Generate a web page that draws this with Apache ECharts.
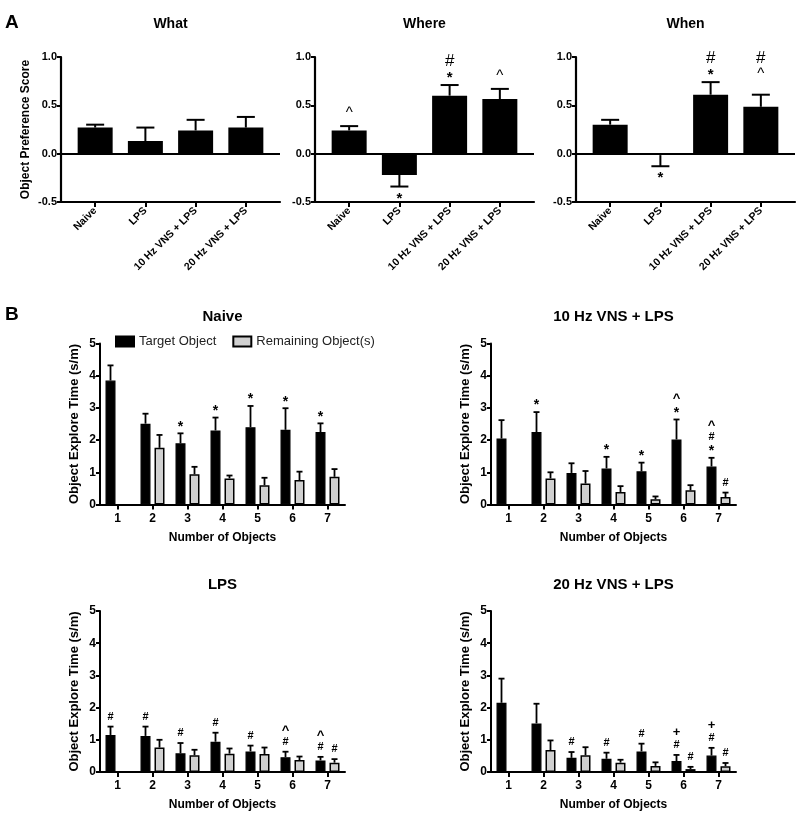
<!DOCTYPE html>
<html><head><meta charset="utf-8">
<script src="https://cdn.jsdelivr.net/npm/echarts@6/dist/echarts.min.js"></script>
<style>html,body{margin:0;padding:0;background:#fff}#c{width:800px;height:817px}</style>
</head><body><div id="c"></div>
<script>
// ================= DATA =================
// Panel A : Object Preference Score
const groupsA = ['Naive', 'LPS', '10 Hz VNS + LPS', '20 Hz VNS + LPS'];
const yTicksA = [-0.5, 0.0, 0.5, 1.0];

const whatMean  = [0.27, 0.13, 0.24, 0.27];
const whatUpper = [0.30, 0.27, 0.35, 0.38];
const whatMarks = ['', '', '', ''];
const whatMarkBase = [0.30, 0.27, 0.35, 0.38];

const whereMean  = [0.24, -0.22, 0.60, 0.565];
const whereUpper = [0.285, -0.34, 0.71, 0.67];
const whereMarks = ['^', '*', '*#', '^'];
const whereMarkBase = [0.285, -0.34, 0.71, 0.67];

const whenMean  = [0.30, -0.015, 0.61, 0.485];
const whenUpper = [0.35, -0.13, 0.74, 0.61];
const whenMarks = ['', '*', '*#', '^#'];
const whenMarkBase = [0.35, -0.13, 0.74, 0.69];

// Panel B : Object Explore Time (s/m) vs number of objects
const objectCounts = ['1', '2', '3', '4', '5', '6', '7'];
const yTicksB = [0, 1, 2, 3, 4, 5];

const naiveTarget      = [3.85, 2.51, 1.90, 2.30, 2.40, 2.32, 2.25];
const naiveTargetUpper = [4.32, 2.82, 2.21, 2.70, 3.06, 2.99, 2.52];
const naiveRemain      = [null, 1.76, 0.94, 0.81, 0.60, 0.76, 0.86];
const naiveRemainUpper = [null, 2.16, 1.17, 0.90, 0.83, 1.02, 1.10];
const naiveTargetMarks = ['', '', '*', '*', '*', '*', '*'];
const naiveRemainMarks = ['', '', '', '', '', '', ''];

const vns10Target      = [2.05, 2.25, 0.98, 1.12, 1.03, 2.02, 1.18];
const vns10TargetUpper = [2.62, 2.87, 1.28, 1.48, 1.30, 2.64, 1.45];
const vns10Remain      = [null, 0.81, 0.65, 0.39, 0.16, 0.44, 0.23];
const vns10RemainUpper = [null, 1.00, 1.04, 0.57, 0.25, 0.60, 0.37];
const vns10TargetMarks = ['', '*', '', '*', '*', '*^', '*#^'];
const vns10RemainMarks = ['', '', '', '', '', '', '#'];

const lpsTarget      = [1.15, 1.12, 0.58, 0.94, 0.64, 0.46, 0.36];
const lpsTargetUpper = [1.41, 1.41, 0.90, 1.22, 0.82, 0.63, 0.47];
const lpsRemain      = [null, 0.76, 0.52, 0.57, 0.56, 0.37, 0.29];
const lpsRemainUpper = [null, 1.00, 0.69, 0.73, 0.76, 0.48, 0.40];
const lpsTargetMarks = ['#', '#', '#', '#', '#', '#^', '#^'];
const lpsRemainMarks = ['', '', '', '', '', '', '#'];

const vns20Target      = [2.15, 1.51, 0.44, 0.41, 0.64, 0.34, 0.51];
const vns20TargetUpper = [2.90, 2.12, 0.62, 0.60, 0.88, 0.53, 0.75];
const vns20Remain      = [null, 0.68, 0.52, 0.29, 0.19, 0.09, 0.18];
const vns20RemainUpper = [null, 0.98, 0.77, 0.38, 0.30, 0.16, 0.28];
const vns20TargetMarks = ['', '', '#', '#', '#', '#+', '#+'];
const vns20RemainMarks = ['', '', '', '', '', '#', '#'];

// ================= STYLE / LAYOUT =================
const FONT = '"Liberation Sans", Arial, Helvetica, sans-serif';
const BLACK = '#000';
const GREY = '#d0d0d0';

const A_TOP = 57, A_H = 145, A_W = 219, A_PAD = 0.18, A_BAR = 35, A_CAP = 18;
const B_W = 245, B_H = 161, B_BAR = 10, B_GAPPX = 4, B_CAP = 6;
const B_SIDE = (B_BAR + B_GAPPX) / 2;

const symA = {
  '*': {font: 'bold 15px ' + FONT, first: 10, below: 9, step: 13, dy: 3},
  '^': {font: '15px ' + FONT, first: 15, below: 9, step: 13, dy: 2},
  '#': {font: '17px ' + FONT, first: 13, below: 9, step: 13.5, dy: 0}
};
const symB = {
  '*': {font: 'bold 14px ' + FONT, first: 9.5, below: 9, step: 11.5, dy: 3},
  '^': {font: 'bold 13px ' + FONT, first: 11, below: 9, step: 13.5, dy: 2},
  '#': {font: 'bold 11px ' + FONT, first: 10, below: 9, step: 11.7, dy: 0},
  '+': {font: 'bold 13px ' + FONT, first: 10, below: 9, step: 12.5, dy: 0}
};

const grids = [], xAxes = [], yAxes = [], series = [], titles = [];

titles.push({text: 'A', left: 5, top: 13, padding: 0,
  textStyle: {fontSize: 19, fontWeight: 'bold', fontFamily: FONT, color: BLACK}});
titles.push({text: 'B', left: 5, top: 305, padding: 0,
  textStyle: {fontSize: 19, fontWeight: 'bold', fontFamily: FONT, color: BLACK}});

function errSeries(gi, items, capW, lw, sideOffset) {
  return {
    type: 'custom', xAxisIndex: gi, yAxisIndex: gi, z: 4, silent: true,
    data: items,
    renderItem(params, api) {
      const x = api.value(0), m = api.value(1), e = api.value(2), side = api.value(3);
      const p0 = api.coord([x, m]), p1 = api.coord([x, e]);
      const dx = side * sideOffset;
      return {type: 'group', children: [
        {type: 'line', shape: {x1: p0[0] + dx, y1: p0[1], x2: p1[0] + dx, y2: p1[1]},
         style: {stroke: BLACK, lineWidth: lw}},
        {type: 'line', shape: {x1: p1[0] + dx - capW / 2, y1: p1[1], x2: p1[0] + dx + capW / 2, y2: p1[1]},
         style: {stroke: BLACK, lineWidth: lw}}
      ]};
    }
  };
}

function markSeries(gi, items, symCfg, sideOffset) {
  return {
    type: 'custom', xAxisIndex: gi, yAxisIndex: gi, z: 5, silent: true,
    data: items.map(it => [it.x, it.base]),
    renderItem(params, api) {
      const it = items[params.dataIndex];
      const p = api.coord([it.x, it.base]);
      const cx = p[0] + it.side * sideOffset;
      let y = p[1];
      const children = [];
      [...it.syms].forEach((s, k) => {
        const st = symCfg[s];
        if (it.up) y -= (k === 0 ? st.first : st.step);
        else y += (k === 0 ? st.below : st.step);
        children.push({type: 'text', x: cx, y: y + st.dy,
          style: {text: s, font: st.font, fill: BLACK, align: 'center', verticalAlign: 'middle'}});
      });
      return {type: 'group', children};
    }
  };
}

// ---------- Panel A ----------
const aPanels = [
  {title: 'What', left: 61, mean: whatMean, upper: whatUpper, marks: whatMarks, base: whatMarkBase, yName: 'Object Preference Score'},
  {title: 'Where', left: 315, mean: whereMean, upper: whereUpper, marks: whereMarks, base: whereMarkBase, yName: ''},
  {title: 'When', left: 576, mean: whenMean, upper: whenUpper, marks: whenMarks, base: whenMarkBase, yName: ''}
];
const catIdxA = groupsA.map((g, i) => i);

aPanels.forEach(p => {
  const gi = grids.length;
  grids.push({left: p.left, top: A_TOP, width: A_W, height: A_H, containLabel: false, outerBoundsMode: 'none'});
  xAxes.push({
    gridIndex: gi, type: 'value', min: -0.5 - A_PAD, max: groupsA.length - 0.5 + A_PAD,
    axisLine: {show: true, onZero: false, lineStyle: {color: BLACK, width: 2.2}},
    axisTick: {show: true, customValues: catIdxA, length: 5, lineStyle: {color: BLACK, width: 2}},
    axisLabel: {show: true, customValues: catIdxA, rotate: 45, margin: 7,
      formatter: v => groupsA[Math.round(v)],
      fontFamily: FONT, fontWeight: 'bold', fontSize: 10.5, color: BLACK},
    splitLine: {show: false}
  });
  yAxes.push({
    gridIndex: gi, type: 'value', min: yTicksA[0], max: yTicksA[yTicksA.length - 1], interval: 0.5,
    axisLine: {show: true, onZero: false, lineStyle: {color: BLACK, width: 2.2}},
    axisTick: {show: true, length: 4, lineStyle: {color: BLACK, width: 2}},
    axisLabel: {fontFamily: FONT, fontWeight: 'bold', fontSize: 11, color: BLACK, margin: 4,
      formatter: v => v.toFixed(1)},
    splitLine: {show: false},
    name: p.yName, nameLocation: 'middle', nameGap: 29, nameMoveOverlap: false,
    nameTextStyle: {fontFamily: FONT, fontWeight: 'bold', fontSize: 12, color: BLACK}
  });
  titles.push({text: p.title, left: p.left + A_W / 2, top: 17, textAlign: 'center', padding: 0,
    textStyle: {fontFamily: FONT, fontWeight: 'bold', fontSize: 14, color: BLACK}});
  series.push({
    type: 'bar', xAxisIndex: gi, yAxisIndex: gi, barWidth: A_BAR, z: 3,
    data: p.mean.map((v, k) => [k, v]),
    itemStyle: {color: BLACK},
    markLine: {silent: true, symbol: ['none', 'none'], label: {show: false},
      lineStyle: {color: BLACK, width: 2.2, type: 'solid'}, data: [{yAxis: 0}]}
  });
  series.push(errSeries(gi, p.mean.map((v, k) => [k, v, p.upper[k], 0]), A_CAP, 2, 0));
  const items = [];
  p.marks.forEach((m, k) => {
    if (m) items.push({x: k, base: p.base[k], syms: m, side: 0, up: p.base[k] >= 0});
  });
  series.push(markSeries(gi, items, symA, 0));
});

// ---------- Panel B ----------
const bPanels = [
  {title: 'Naive', left: 100, top: 343.5, t: naiveTarget, tu: naiveTargetUpper, r: naiveRemain, ru: naiveRemainUpper, tm: naiveTargetMarks, rm: naiveRemainMarks},
  {title: '10 Hz VNS + LPS', left: 491, top: 343.5, t: vns10Target, tu: vns10TargetUpper, r: vns10Remain, ru: vns10RemainUpper, tm: vns10TargetMarks, rm: vns10RemainMarks},
  {title: 'LPS', left: 100, top: 611, t: lpsTarget, tu: lpsTargetUpper, r: lpsRemain, ru: lpsRemainUpper, tm: lpsTargetMarks, rm: lpsRemainMarks},
  {title: '20 Hz VNS + LPS', left: 491, top: 611, t: vns20Target, tu: vns20TargetUpper, r: vns20Remain, ru: vns20RemainUpper, tm: vns20TargetMarks, rm: vns20RemainMarks}
];

bPanels.forEach(p => {
  const gi = grids.length;
  grids.push({left: p.left, top: p.top, width: B_W, height: B_H, containLabel: false, outerBoundsMode: 'none'});
  xAxes.push({
    gridIndex: gi, type: 'category', data: objectCounts, boundaryGap: true,
    axisLine: {show: true, lineStyle: {color: BLACK, width: 2}},
    axisTick: {show: true, alignWithLabel: true, length: 5, lineStyle: {color: BLACK, width: 2}},
    axisLabel: {fontFamily: FONT, fontWeight: 'bold', fontSize: 12, color: BLACK, margin: 8},
    name: 'Number of Objects', nameLocation: 'middle', nameGap: 27, nameMoveOverlap: false,
    nameTextStyle: {fontFamily: FONT, fontWeight: 'bold', fontSize: 12, color: BLACK}
  });
  yAxes.push({
    gridIndex: gi, type: 'value', min: yTicksB[0], max: yTicksB[yTicksB.length - 1], interval: 1,
    axisLine: {show: true, onZero: false, lineStyle: {color: BLACK, width: 2}},
    axisTick: {show: true, length: 4, lineStyle: {color: BLACK, width: 2}},
    axisLabel: {fontFamily: FONT, fontWeight: 'bold', fontSize: 12, color: BLACK, margin: 4},
    splitLine: {show: false},
    name: 'Object Explore Time (s/m)', nameLocation: 'middle', nameGap: 19, nameMoveOverlap: false,
    nameTextStyle: {fontFamily: FONT, fontWeight: 'bold', fontSize: 13, color: BLACK}
  });
  titles.push({text: p.title, left: p.left + B_W / 2, top: p.top - 34, textAlign: 'center', padding: 0,
    textStyle: {fontFamily: FONT, fontWeight: 'bold', fontSize: 15, color: BLACK}});
  series.push({
    type: 'bar', name: 'Target Object', xAxisIndex: gi, yAxisIndex: gi, z: 3,
    barWidth: B_BAR, barGap: (B_GAPPX / B_BAR * 100) + '%',
    data: p.t, itemStyle: {color: BLACK, borderColor: BLACK, borderWidth: 1.2}
  });
  series.push({
    type: 'bar', name: 'Remaining Object(s)', xAxisIndex: gi, yAxisIndex: gi, z: 3,
    barWidth: B_BAR, barGap: (B_GAPPX / B_BAR * 100) + '%',
    data: p.r.map(v => v == null ? '-' : v), itemStyle: {color: GREY, borderColor: BLACK, borderWidth: 1.5}
  });
  const errs = [];
  p.t.forEach((v, k) => { if (v != null) errs.push([k, v, p.tu[k], -1]); });
  p.r.forEach((v, k) => { if (v != null) errs.push([k, v, p.ru[k], 1]); });
  series.push(errSeries(gi, errs, B_CAP, 1.8, B_SIDE));
  const items = [];
  p.tm.forEach((m, k) => { if (m) items.push({x: k, base: p.tu[k], syms: m, side: -1, up: true}); });
  p.rm.forEach((m, k) => { if (m) items.push({x: k, base: p.ru[k], syms: m, side: 1, up: true}); });
  series.push(markSeries(gi, items, symB, B_SIDE));
});

const chart = echarts.init(document.getElementById('c'), null, {renderer: 'canvas'});
chart.setOption({
  animation: false,
  backgroundColor: '#fff',
  title: titles,
  legend: {
    data: ['Target Object', 'Remaining Object(s)'],
    left: 115, top: 335, padding: 0, itemGap: 16, itemWidth: 18, itemHeight: 10, icon: 'rect',
    selectedMode: false,
    textStyle: {fontFamily: FONT, fontSize: 13, color: '#222'}
  },
  grid: grids, xAxis: xAxes, yAxis: yAxes, series: series
});
</script></body></html>
